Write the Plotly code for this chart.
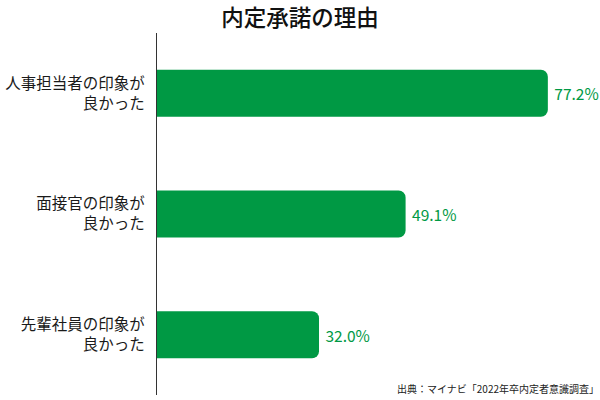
import plotly.graph_objects as go

categories = ["人事担当者の印象が<br>良かった", "面接官の印象が<br>良かった", "先輩社員の印象が<br>良かった"]
values = [77.2, 49.1, 32.0]
title = "内定承諾の理由"
source = "出典：マイナビ「2022年卒内定者意識調査」"

GREEN = "#009944"
FONT = "Noto Sans CJK JP"

fig = go.Figure(go.Bar(
    x=values, y=categories, orientation="h",
    marker=dict(color=GREEN, cornerradius=7, line=dict(width=0)),
    width=0.39,
    text=values, texttemplate="&nbsp;%{x:.1f}%", textposition="outside",
    textfont=dict(color=GREEN, size=15.5, family=FONT),
    cliponaxis=False,
))

fig.update_layout(
    width=600, height=400,
    margin=dict(l=157, r=0, t=33, b=5),
    paper_bgcolor="white", plot_bgcolor="white",
    font=dict(family=FONT, color="#222222"),
    title=dict(text=title, x=0.5, xanchor="center", y=0.955, yanchor="middle",
               font=dict(size=22.5, color="#111111", family=FONT, weight=500)),
    showlegend=False,
    xaxis=dict(range=[0, 87.5], showgrid=False, zeroline=False, showticklabels=False,
               showline=False, fixedrange=True),
    yaxis=dict(autorange="reversed", showgrid=False, zeroline=False,
               showline=True, linecolor="#333333", linewidth=1.2,
               ticks="", ticklabelstandoff=8,
               tickfont=dict(size=15.5, color="#1a1a1a", family=FONT)),
    annotations=[dict(text=source, xref="paper", yref="paper", x=1.0, y=0.0,
                      xanchor="right", yanchor="bottom", showarrow=False,
                      font=dict(size=10, color="#222222", family=FONT),
                      borderpad=0, xshift=0, yshift=-2)],
)

fig.write_html("out.html")
